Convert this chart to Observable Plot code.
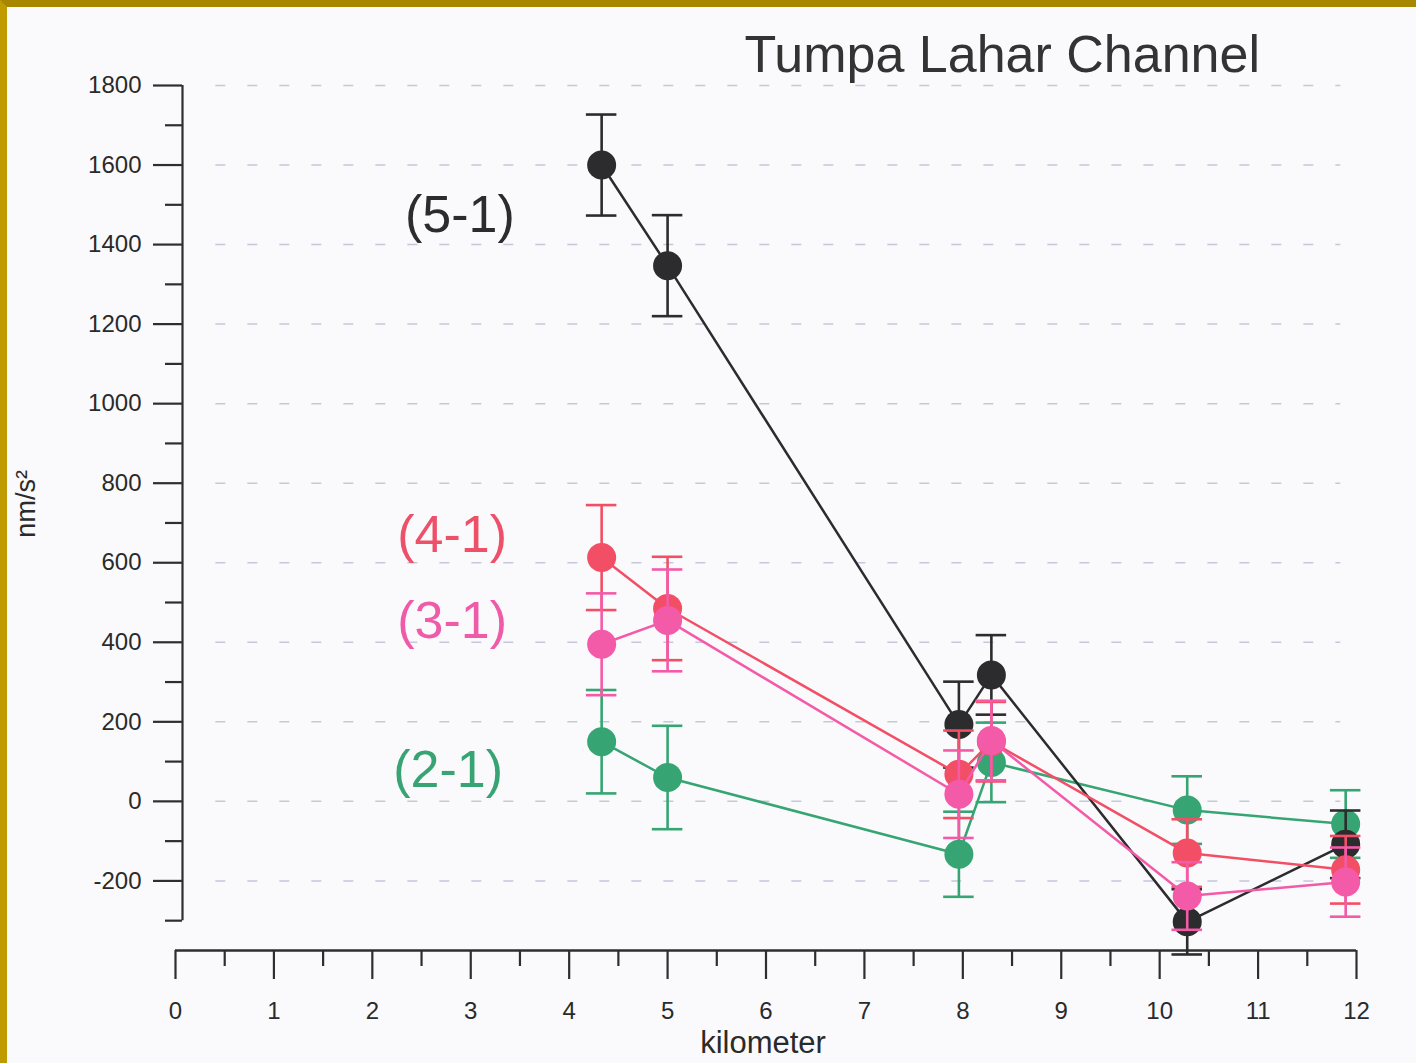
<!DOCTYPE html>
<html>
<head>
<meta charset="utf-8">
<script src="https://cdn.jsdelivr.net/npm/d3@7"></script>
<script src="https://cdn.jsdelivr.net/npm/@observablehq/plot@0.6"></script>
<style>
  html, body { margin: 0; padding: 0; background: #fafafc; }
  #frame { width: 1409px; height: 1056px; border-top: 7px solid #a88700; border-left: 7px solid #bf9a00; background: #fafafc; }
  svg { display: block; }
</style>
</head>
<body>
<div id="frame"></div>
<script>
// ---- data ----
const kilometer = [4.33, 5.0, 7.96, 8.29, 10.28, 11.89];
const seriesNames = ["(5-1)", "(4-1)", "(3-1)", "(2-1)"];
const values51 = [1600, 1347, 193, 318, -303, -108];
const errors51 = [127, 127, 108, 100, 82, 85];
const values41 = [613, 485, 68, 150, -130, -172];
const errors41 = [132, 130, 110, 100, 85, 85];
const values31 = [395, 455, 18, 153, -238, -203];
const errors31 = [128, 128, 110, 100, 85, 87];
const values21 = [150, 60, -133, 98, -22, -57];
const errors21 = [130, 130, 107, 100, 85, 85];
const yMajorTicks = [-200, 0, 200, 400, 600, 800, 1000, 1200, 1400, 1600, 1800];
const yMinorTicks = [-300, -100, 100, 300, 500, 700, 900, 1100, 1300, 1500, 1700];
const xMajorTicks = [0, 1, 2, 3, 4, 5, 6, 7, 8, 9, 10, 11, 12];
const xMinorTicks = [0.5, 1.5, 2.5, 3.5, 4.5, 5.5, 6.5, 7.5, 8.5, 9.5, 10.5, 11.5];
const gridValues = [-200, 0, 200, 400, 600, 800, 1000, 1200, 1400, 1600, 1800];

const colors = {"(5-1)": "#2c2c2e", "(4-1)": "#f24f66", "(3-1)": "#f35aa8", "(2-1)": "#36a573"};

function rows(name, vals, errs) {
  return kilometer.map((k, i) => ({series: name, km: k, value: vals[i], err: errs[i]}));
}
const table = {
  "(5-1)": rows("(5-1)", values51, errors51),
  "(4-1)": rows("(4-1)", values41, errors41),
  "(3-1)": rows("(3-1)", values31, errors31),
  "(2-1)": rows("(2-1)", values21, errors21)
};
const drawOrder = ["(2-1)", "(5-1)", "(4-1)", "(3-1)"];

const capHalf = 0.155;
const seriesMarks = drawOrder.flatMap(name => {
  const d = table[name], c = colors[name];
  return [
    Plot.line(d, {x: "km", y: "value", stroke: c, strokeWidth: 2.5}),
    Plot.ruleX(d, {x: "km", y1: r => r.value - r.err, y2: r => r.value + r.err, stroke: c, strokeWidth: 2.6}),
    Plot.ruleY(d, {y: r => r.value + r.err, x1: r => r.km - capHalf, x2: r => r.km + capHalf, stroke: c, strokeWidth: 2.6}),
    Plot.ruleY(d, {y: r => r.value - r.err, x1: r => r.km - capHalf, x2: r => r.km + capHalf, stroke: c, strokeWidth: 2.6}),
    Plot.dot(d, {x: "km", y: "value", r: 14.5, fill: c, stroke: "none"})
  ];
});

const font = "'Liberation Sans', Arial, sans-serif";
const chart = Plot.plot({
  width: 1409,
  height: 1056,
  marginLeft: 168,
  marginRight: 60,
  marginTop: 78,
  marginBottom: 113,
  style: {background: "transparent", fontFamily: font, color: "#2a2a2a"},
  x: {domain: [0, 12], axis: null},
  y: {domain: [-375, 1800], axis: null},
  marks: [
    // dashed gridlines
    Plot.ruleY(gridValues, {x1: 0.41, x2: 11.84, stroke: "#c3c8da", strokeWidth: 1.5, strokeDasharray: "10,22"}),
    // y axis
    Plot.ruleX([0], {y1: -300, y2: 1800, dx: 7, stroke: "#2e2e2e", strokeWidth: 2.2}),
    Plot.axisY(yMajorTicks, {anchor: "left", dx: 7, tickSize: 29, tickPadding: 12, fontSize: 24, stroke: "#2e2e2e", strokeWidth: 2.2, fill: "#2a2a2a", tickFormat: d => String(d), label: null}),
    Plot.axisY(yMinorTicks, {anchor: "left", dx: 7, tickSize: 17, strokeWidth: 2.2, stroke: "#2e2e2e", text: null, label: null}),
    // x axis
    Plot.ruleY([-375], {x1: 0, x2: 12, stroke: "#2e2e2e", strokeWidth: 2.4}),
    Plot.axisX(xMajorTicks, {anchor: "bottom", tickSize: 29, tickPadding: 22, fontSize: 24, stroke: "#2e2e2e", strokeWidth: 2.2, fill: "#2a2a2a", tickFormat: d => String(d), label: null}),
    Plot.axisX(xMinorTicks, {anchor: "bottom", tickSize: 16, strokeWidth: 2.2, stroke: "#2e2e2e", text: null, label: null}),
    // axis titles
    Plot.text(["kilometer"], {x: 5.97, y: -608, fontSize: 31, fill: "#2a2a2a"}),
    Plot.text(["nm/s²"], {x: -1.52, y: 748, rotate: -90, fontSize: 27, fill: "#2a2a2a"}),
    // title
    Plot.text(["Tumpa Lahar Channel"], {x: 8.4, y: 1875, fontSize: 52, fill: "#333"}),
    // series labels
    Plot.text(["(5-1)"], {x: 2.89, y: 1474, fontSize: 52, fill: "#2c2c2e"}),
    Plot.text(["(4-1)"], {x: 2.81, y: 668, fontSize: 52, fill: "#ec5169"}),
    Plot.text(["(3-1)"], {x: 2.81, y: 453, fontSize: 52, fill: "#ef5aa9"}),
    Plot.text(["(2-1)"], {x: 2.77, y: 78, fontSize: 52, fill: "#38a373"}),
    ...seriesMarks
  ]
});
document.getElementById("frame").appendChild(chart);
</script>
</body>
</html>
